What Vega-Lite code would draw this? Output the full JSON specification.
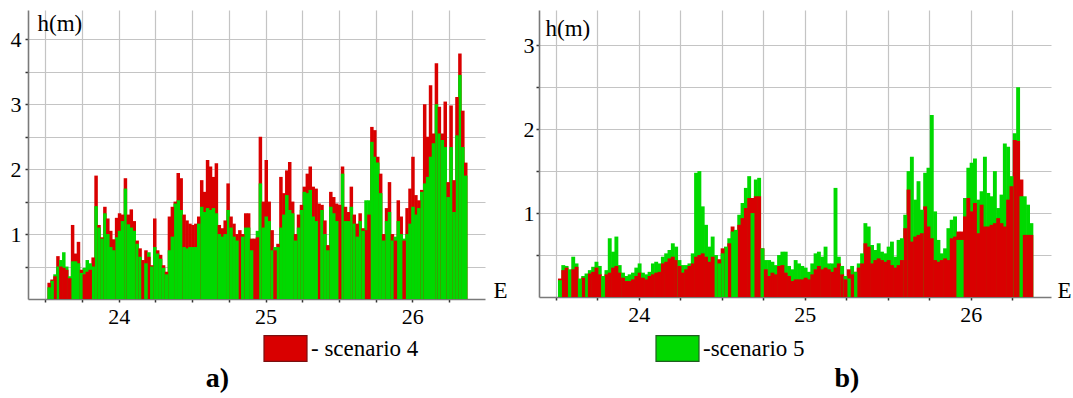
{
  "$schema": "https://vega.github.io/schema/vega-lite/v6.json",
  "padding": {"left": 10, "top": 10, "right": 0, "bottom": 0},
  "background": "white",
  "spacing": 15,
  "resolve": {"scale": {"color": "independent"}},
  "config": {
    "font": "Liberation Serif, serif",
    "view": {"stroke": null},
    "axis": {"labelFont": "Liberation Serif, serif", "titleFont": "Liberation Serif, serif", "labelColor": "#000", "titleColor": "#000", "gridColor": "#c4c4c4", "gridWidth": 1.2, "domainColor": "#7a7a7a", "domainWidth": 1.6, "tickColor": "#333", "tickSize": 3, "tickWidth": 1.5, "labelFontSize": 22, "titleFontSize": 23, "titleFontWeight": "normal", "labelOverlap": false, "labelFlush": false},
    "legend": {"labelFont": "Liberation Serif, serif", "labelFontSize": 23, "labelColor": "#000", "symbolType": "M-1,-0.6L1,-0.6L1,0.6L-1,0.6Z", "symbolSize": 1849, "symbolStrokeWidth": 1.2, "symbolOpacity": 1, "padding": 0, "labelOffset": 3},
    "title": {"font": "Liberation Serif, serif", "fontSize": 28, "fontWeight": "bold", "color": "#000"}
  },
  "datasets": {
    "a": [
      {"e":23.525,"scenario 4":0.25,"scenario 5":0.18},{"e":23.545,"scenario 4":0.3,"scenario 5":0.28},{"e":23.565,"scenario 4":0.35,"scenario 5":0.38},{"e":23.585,"scenario 4":0.66,"scenario 5":0.5},{"e":23.605,"scenario 4":0.5,"scenario 5":0.6},
      {"e":23.625,"scenario 4":0.48,"scenario 5":0.72},{"e":23.645,"scenario 4":0.45,"scenario 5":0.5},{"e":23.665,"scenario 4":0.32,"scenario 5":0.35},{"e":23.685,"scenario 4":1.14,"scenario 5":0.58},{"e":23.705,"scenario 4":0.7,"scenario 5":0.58},
      {"e":23.725,"scenario 4":0.88,"scenario 5":0.55},{"e":23.745,"scenario 4":0.45,"scenario 5":0.4},{"e":23.765,"scenario 4":0.38,"scenario 5":0.48},{"e":23.785,"scenario 4":0.42,"scenario 5":0.6},{"e":23.805,"scenario 4":0.45,"scenario 5":0.55},
      {"e":23.825,"scenario 4":0.64,"scenario 5":0.5},{"e":23.845,"scenario 4":1.9,"scenario 5":1.43},{"e":23.865,"scenario 4":1.14,"scenario 5":1.1},{"e":23.885,"scenario 4":0.95,"scenario 5":0.93},{"e":23.905,"scenario 4":1.42,"scenario 5":1.32},
      {"e":23.925,"scenario 4":1.24,"scenario 5":1.0},{"e":23.945,"scenario 4":1.05,"scenario 5":0.8},{"e":23.965,"scenario 4":0.92,"scenario 5":0.75},{"e":23.985,"scenario 4":1.25,"scenario 5":0.95},{"e":24.005,"scenario 4":1.32,"scenario 5":1.05},
      {"e":24.025,"scenario 4":1.3,"scenario 5":1.2},{"e":24.045,"scenario 4":1.86,"scenario 5":1.7},{"e":24.065,"scenario 4":1.3,"scenario 5":1.15},{"e":24.085,"scenario 4":1.38,"scenario 5":1.1},{"e":24.105,"scenario 4":1.2,"scenario 5":1.05},
      {"e":24.125,"scenario 4":0.9,"scenario 5":0.85},{"e":24.145,"scenario 4":0.78,"scenario 5":0.65},{"e":24.165,"scenario 4":0.6,"scenario 5":0},{"e":24.185,"scenario 4":0.75,"scenario 5":0.55},{"e":24.205,"scenario 4":0.65,"scenario 5":0.72},
      {"e":24.225,"scenario 4":0.52,"scenario 5":0.5},{"e":24.245,"scenario 4":1.24,"scenario 5":0.8},{"e":24.265,"scenario 4":0.75,"scenario 5":0.7},{"e":24.285,"scenario 4":0.68,"scenario 5":0.62},{"e":24.305,"scenario 4":0.52,"scenario 5":0.48},
      {"e":24.325,"scenario 4":0.42,"scenario 5":0.38},{"e":24.345,"scenario 4":1.27,"scenario 5":0.75},{"e":24.365,"scenario 4":1.42,"scenario 5":0.96},{"e":24.385,"scenario 4":1.5,"scenario 5":1.47},{"e":24.405,"scenario 4":1.94,"scenario 5":1.52},
      {"e":24.425,"scenario 4":1.86,"scenario 5":1.37},{"e":24.445,"scenario 4":1.3,"scenario 5":0.8},{"e":24.465,"scenario 4":1.21,"scenario 5":0.78},{"e":24.485,"scenario 4":1.16,"scenario 5":0.8},{"e":24.505,"scenario 4":1.14,"scenario 5":0.8},
      {"e":24.525,"scenario 4":1.16,"scenario 5":0.8},{"e":24.545,"scenario 4":1.27,"scenario 5":1.16},{"e":24.565,"scenario 4":1.83,"scenario 5":1.42},{"e":24.585,"scenario 4":1.65,"scenario 5":1.34},{"e":24.605,"scenario 4":2.14,"scenario 5":1.4},
      {"e":24.625,"scenario 4":2.04,"scenario 5":1.37},{"e":24.645,"scenario 4":1.88,"scenario 5":1.4},{"e":24.665,"scenario 4":2.09,"scenario 5":1.32},{"e":24.685,"scenario 4":1.14,"scenario 5":1.0},{"e":24.705,"scenario 4":1.09,"scenario 5":0.96},
      {"e":24.725,"scenario 4":1.21,"scenario 5":1.0},{"e":24.745,"scenario 4":1.78,"scenario 5":1.37},{"e":24.765,"scenario 4":1.27,"scenario 5":1.1},{"e":24.785,"scenario 4":1.16,"scenario 5":0.96},{"e":24.805,"scenario 4":1.0,"scenario 5":0.9},
      {"e":24.825,"scenario 4":1.06,"scenario 5":0},{"e":24.845,"scenario 4":1.0,"scenario 5":0.96},{"e":24.865,"scenario 4":1.32,"scenario 5":1.1},{"e":24.885,"scenario 4":1.32,"scenario 5":1.1},{"e":24.905,"scenario 4":0.93,"scenario 5":0.75},
      {"e":24.925,"scenario 4":0.93,"scenario 5":0},{"e":24.945,"scenario 4":0.95,"scenario 5":1.05},{"e":24.965,"scenario 4":2.5,"scenario 5":1.78},{"e":24.985,"scenario 4":1.5,"scenario 5":1.1},{"e":25.005,"scenario 4":2.14,"scenario 5":1.27},
      {"e":25.025,"scenario 4":1.5,"scenario 5":1.2},{"e":25.045,"scenario 4":1.06,"scenario 5":0.75},{"e":25.065,"scenario 4":0.75,"scenario 5":0.8},{"e":25.085,"scenario 4":0.85,"scenario 5":0.8},{"e":25.105,"scenario 4":1.88,"scenario 5":1.1},
      {"e":25.125,"scenario 4":1.63,"scenario 5":1.3},{"e":25.145,"scenario 4":1.98,"scenario 5":1.6},{"e":25.165,"scenario 4":2.11,"scenario 5":1.37},{"e":25.185,"scenario 4":1.5,"scenario 5":1.32},{"e":25.205,"scenario 4":1.0,"scenario 5":0.9},
      {"e":25.225,"scenario 4":1.3,"scenario 5":1.1},{"e":25.245,"scenario 4":1.45,"scenario 5":1.37},{"e":25.265,"scenario 4":1.73,"scenario 5":1.65},{"e":25.285,"scenario 4":1.93,"scenario 5":1.63},{"e":25.305,"scenario 4":2.04,"scenario 5":1.68},
      {"e":25.325,"scenario 4":1.73,"scenario 5":1.27},{"e":25.345,"scenario 4":1.7,"scenario 5":1.2},{"e":25.365,"scenario 4":1.47,"scenario 5":0},{"e":25.385,"scenario 4":1.45,"scenario 5":1.37},{"e":25.405,"scenario 4":1.21,"scenario 5":1.0},
      {"e":25.425,"scenario 4":0.83,"scenario 5":0.75},{"e":25.445,"scenario 4":1.65,"scenario 5":1.42},{"e":25.465,"scenario 4":1.57,"scenario 5":1.32},{"e":25.485,"scenario 4":1.47,"scenario 5":1.2},{"e":25.505,"scenario 4":1.45,"scenario 5":0},
      {"e":25.525,"scenario 4":2.04,"scenario 5":1.93},{"e":25.545,"scenario 4":1.42,"scenario 5":1.2},{"e":25.565,"scenario 4":1.34,"scenario 5":1.2},{"e":25.585,"scenario 4":1.73,"scenario 5":1.42},{"e":25.605,"scenario 4":1.3,"scenario 5":1.16},
      {"e":25.625,"scenario 4":1.16,"scenario 5":0.96},{"e":25.645,"scenario 4":1.32,"scenario 5":1.2},{"e":25.665,"scenario 4":1.09,"scenario 5":1.05},{"e":25.685,"scenario 4":1.06,"scenario 5":1.52},{"e":25.705,"scenario 4":1.3,"scenario 5":1.52},
      {"e":25.725,"scenario 4":2.65,"scenario 5":2.42},{"e":25.745,"scenario 4":2.6,"scenario 5":2.19},{"e":25.765,"scenario 4":2.19,"scenario 5":2.1},{"e":25.785,"scenario 4":1.93,"scenario 5":1.63},{"e":25.805,"scenario 4":1.0,"scenario 5":0.9},
      {"e":25.825,"scenario 4":1.4,"scenario 5":1.2},{"e":25.845,"scenario 4":1.8,"scenario 5":1.34},{"e":25.865,"scenario 4":1.0,"scenario 5":0.9},{"e":25.885,"scenario 4":0.9,"scenario 5":0.96},{"e":25.905,"scenario 4":1.52,"scenario 5":1.2},
      {"e":25.925,"scenario 4":1.27,"scenario 5":1.0},{"e":25.945,"scenario 4":0.9,"scenario 5":0.93},{"e":25.965,"scenario 4":1.4,"scenario 5":1.0},{"e":25.985,"scenario 4":1.7,"scenario 5":1.16},{"e":26.005,"scenario 4":2.19,"scenario 5":1.42},
      {"e":26.025,"scenario 4":1.6,"scenario 5":1.3},{"e":26.045,"scenario 4":1.52,"scenario 5":1.4},{"e":26.065,"scenario 4":1.68,"scenario 5":1.65},{"e":26.085,"scenario 4":3.0,"scenario 5":1.78},{"e":26.105,"scenario 4":2.5,"scenario 5":1.88},
      {"e":26.125,"scenario 4":3.29,"scenario 5":2.19},{"e":26.145,"scenario 4":2.55,"scenario 5":2.4},{"e":26.165,"scenario 4":3.63,"scenario 5":3.0},{"e":26.185,"scenario 4":2.96,"scenario 5":2.55},{"e":26.205,"scenario 4":2.55,"scenario 5":2.45},
      {"e":26.225,"scenario 4":3.04,"scenario 5":2.34},{"e":26.245,"scenario 4":1.8,"scenario 5":1.57},{"e":26.265,"scenario 4":2.98,"scenario 5":2.34},{"e":26.285,"scenario 4":1.83,"scenario 5":1.34},{"e":26.305,"scenario 4":3.11,"scenario 5":2.52},
      {"e":26.325,"scenario 4":3.78,"scenario 5":3.45},{"e":26.345,"scenario 4":2.9,"scenario 5":2.34},{"e":26.365,"scenario 4":2.1,"scenario 5":1.9}
    ],
    "b": [
      {"e":23.525,"scenario 4":0.22,"scenario 5":0.2},{"e":23.545,"scenario 4":0.32,"scenario 5":0.38},{"e":23.565,"scenario 4":0.35,"scenario 5":0.37},{"e":23.585,"scenario 4":0,"scenario 5":0.33},{"e":23.605,"scenario 4":0.33,"scenario 5":0.48},
      {"e":23.625,"scenario 4":0.36,"scenario 5":0.4},{"e":23.645,"scenario 4":0,"scenario 5":0.22},{"e":23.665,"scenario 4":0.23,"scenario 5":0.25},{"e":23.685,"scenario 4":0,"scenario 5":0.28},{"e":23.705,"scenario 4":0.28,"scenario 5":0.32},
      {"e":23.725,"scenario 4":0.3,"scenario 5":0.36},{"e":23.745,"scenario 4":0.35,"scenario 5":0.42},{"e":23.765,"scenario 4":0.27,"scenario 5":0.37},{"e":23.785,"scenario 4":0,"scenario 5":0.25},{"e":23.805,"scenario 4":0.27,"scenario 5":0.32},
      {"e":23.825,"scenario 4":0.29,"scenario 5":0.7},{"e":23.845,"scenario 4":0.35,"scenario 5":0.54},{"e":23.865,"scenario 4":0.37,"scenario 5":0.72},{"e":23.885,"scenario 4":0.29,"scenario 5":0.38},{"e":23.905,"scenario 4":0.23,"scenario 5":0.29},
      {"e":23.925,"scenario 4":0.19,"scenario 5":0.25},{"e":23.945,"scenario 4":0.19,"scenario 5":0.27},{"e":23.965,"scenario 4":0.21,"scenario 5":0.29},{"e":23.985,"scenario 4":0.25,"scenario 5":0.35},{"e":24.005,"scenario 4":0.29,"scenario 5":0.4},
      {"e":24.025,"scenario 4":0.23,"scenario 5":0.29},{"e":24.045,"scenario 4":0.21,"scenario 5":0.27},{"e":24.065,"scenario 4":0.25,"scenario 5":0.3},{"e":24.085,"scenario 4":0.27,"scenario 5":0.4},{"e":24.105,"scenario 4":0.29,"scenario 5":0.42},
      {"e":24.125,"scenario 4":0.3,"scenario 5":0.4},{"e":24.145,"scenario 4":0.4,"scenario 5":0.48},{"e":24.165,"scenario 4":0.42,"scenario 5":0.52},{"e":24.185,"scenario 4":0.46,"scenario 5":0.56},{"e":24.205,"scenario 4":0.48,"scenario 5":0.64},
      {"e":24.225,"scenario 4":0.44,"scenario 5":0.6},{"e":24.245,"scenario 4":0.37,"scenario 5":0.44},{"e":24.265,"scenario 4":0.29,"scenario 5":0.38},{"e":24.285,"scenario 4":0.33,"scenario 5":0.38},{"e":24.305,"scenario 4":0.37,"scenario 5":0.4},
      {"e":24.325,"scenario 4":0.4,"scenario 5":0.52},{"e":24.345,"scenario 4":0.48,"scenario 5":1.48},{"e":24.365,"scenario 4":0.5,"scenario 5":1.5},{"e":24.385,"scenario 4":0.52,"scenario 5":1.08},{"e":24.405,"scenario 4":0.48,"scenario 5":0.86},
      {"e":24.425,"scenario 4":0.42,"scenario 5":0.6},{"e":24.445,"scenario 4":0.48,"scenario 5":0.72},{"e":24.465,"scenario 4":0,"scenario 5":0.5},{"e":24.485,"scenario 4":0.45,"scenario 5":0.4},{"e":24.505,"scenario 4":0.58,"scenario 5":0.52},
      {"e":24.525,"scenario 4":0,"scenario 5":0.6},{"e":24.545,"scenario 4":0.64,"scenario 5":0.7},{"e":24.565,"scenario 4":0.84,"scenario 5":0.78},{"e":24.585,"scenario 4":0,"scenario 5":0.8},{"e":24.605,"scenario 4":0.86,"scenario 5":0.98},
      {"e":24.625,"scenario 4":0.94,"scenario 5":1.12},{"e":24.645,"scenario 4":1.06,"scenario 5":1.3},{"e":24.665,"scenario 4":1.18,"scenario 5":1.44},{"e":24.685,"scenario 4":1.18,"scenario 5":1.0},{"e":24.705,"scenario 4":1.2,"scenario 5":1.4},
      {"e":24.725,"scenario 4":1.2,"scenario 5":1.42},{"e":24.745,"scenario 4":0.58,"scenario 5":0.58},{"e":24.765,"scenario 4":0.33,"scenario 5":0.44},{"e":24.785,"scenario 4":0.25,"scenario 5":0.44},{"e":24.805,"scenario 4":0.29,"scenario 5":0.42},
      {"e":24.825,"scenario 4":0.27,"scenario 5":0.38},{"e":24.845,"scenario 4":0.37,"scenario 5":0.5},{"e":24.865,"scenario 4":0.38,"scenario 5":0.54},{"e":24.885,"scenario 4":0.29,"scenario 5":0.54},{"e":24.905,"scenario 4":0.25,"scenario 5":0.37},
      {"e":24.925,"scenario 4":0.19,"scenario 5":0.33},{"e":24.945,"scenario 4":0.21,"scenario 5":0.44},{"e":24.965,"scenario 4":0.21,"scenario 5":0.4},{"e":24.985,"scenario 4":0.21,"scenario 5":0.37},{"e":25.005,"scenario 4":0.23,"scenario 5":0.35},
      {"e":25.025,"scenario 4":0.21,"scenario 5":0.3},{"e":25.045,"scenario 4":0.27,"scenario 5":0.4},{"e":25.065,"scenario 4":0.33,"scenario 5":0.52},{"e":25.085,"scenario 4":0.37,"scenario 5":0.54},{"e":25.105,"scenario 4":0.33,"scenario 5":0.48},
      {"e":25.125,"scenario 4":0.35,"scenario 5":0.6},{"e":25.145,"scenario 4":0.33,"scenario 5":0.4},{"e":25.165,"scenario 4":0.3,"scenario 5":0.4},{"e":25.185,"scenario 4":0.35,"scenario 5":1.3},{"e":25.205,"scenario 4":0.4,"scenario 5":0.48},
      {"e":25.225,"scenario 4":0.27,"scenario 5":0.37},{"e":25.245,"scenario 4":0.21,"scenario 5":0.25},{"e":25.265,"scenario 4":0.33,"scenario 5":0.22},{"e":25.285,"scenario 4":0.27,"scenario 5":0.37},{"e":25.305,"scenario 4":0.3,"scenario 5":0.3},
      {"e":25.325,"scenario 4":0.35,"scenario 5":0.4},{"e":25.345,"scenario 4":0.4,"scenario 5":0.52},{"e":25.365,"scenario 4":0.64,"scenario 5":0.88},{"e":25.385,"scenario 4":0.6,"scenario 5":0.84},{"e":25.405,"scenario 4":0.4,"scenario 5":0.62},
      {"e":25.425,"scenario 4":0.44,"scenario 5":0.56},{"e":25.445,"scenario 4":0.46,"scenario 5":0.64},{"e":25.465,"scenario 4":0.44,"scenario 5":0.54},{"e":25.485,"scenario 4":0.42,"scenario 5":0.52},{"e":25.505,"scenario 4":0.44,"scenario 5":0.6},
      {"e":25.525,"scenario 4":0.38,"scenario 5":0.66},{"e":25.545,"scenario 4":0.35,"scenario 5":0.48},{"e":25.565,"scenario 4":0.38,"scenario 5":0.68},{"e":25.585,"scenario 4":0.44,"scenario 5":0.7},{"e":25.605,"scenario 4":0.82,"scenario 5":0.98},
      {"e":25.625,"scenario 4":1.28,"scenario 5":1.5},{"e":25.645,"scenario 4":0.66,"scenario 5":1.67},{"e":25.665,"scenario 4":0.72,"scenario 5":1.16},{"e":25.685,"scenario 4":0.74,"scenario 5":1.38},{"e":25.705,"scenario 4":0.76,"scenario 5":1.04},
      {"e":25.725,"scenario 4":1.08,"scenario 5":1.48},{"e":25.745,"scenario 4":0.84,"scenario 5":1.54},{"e":25.765,"scenario 4":0.7,"scenario 5":2.17},{"e":25.785,"scenario 4":0.44,"scenario 5":1.02},{"e":25.805,"scenario 4":0.42,"scenario 5":0.68},
      {"e":25.825,"scenario 4":0.44,"scenario 5":0.52},{"e":25.845,"scenario 4":0.46,"scenario 5":0.58},{"e":25.865,"scenario 4":0.44,"scenario 5":0.82},{"e":25.885,"scenario 4":0.7,"scenario 5":0.92},{"e":25.905,"scenario 4":0.72,"scenario 5":0.96},
      {"e":25.925,"scenario 4":0.78,"scenario 5":0.68},{"e":25.945,"scenario 4":0.78,"scenario 5":0.68},{"e":25.965,"scenario 4":0.96,"scenario 5":1.18},{"e":25.985,"scenario 4":1.18,"scenario 5":1.54},{"e":26.005,"scenario 4":1.02,"scenario 5":1.6},
      {"e":26.025,"scenario 4":1.12,"scenario 5":1.65},{"e":26.045,"scenario 4":0.76,"scenario 5":1.16},{"e":26.065,"scenario 4":1.1,"scenario 5":1.26},{"e":26.085,"scenario 4":0.84,"scenario 5":1.67},{"e":26.105,"scenario 4":0.84,"scenario 5":1.24},
      {"e":26.125,"scenario 4":0.86,"scenario 5":1.2},{"e":26.145,"scenario 4":0.88,"scenario 5":1.5},{"e":26.165,"scenario 4":0.94,"scenario 5":1.06},{"e":26.185,"scenario 4":0.88,"scenario 5":1.22},{"e":26.205,"scenario 4":0.84,"scenario 5":1.83},
      {"e":26.225,"scenario 4":1.16,"scenario 5":1.79},{"e":26.245,"scenario 4":1.32,"scenario 5":1.44},{"e":26.265,"scenario 4":1.87,"scenario 5":1.95},{"e":26.285,"scenario 4":1.86,"scenario 5":2.5},{"e":26.305,"scenario 4":1.4,"scenario 5":1.2},
      {"e":26.325,"scenario 4":0.74,"scenario 5":1.2},{"e":26.345,"scenario 4":0.74,"scenario 5":1.1},{"e":26.365,"scenario 4":0.74,"scenario 5":0.88}
    ]
  },
  "hconcat": [
    {
      "width": 457,
      "height": 289,
      "data": {"name": "a"},
      "transform": [{"fold": ["scenario 4", "scenario 5"], "as": ["s", "h"]}],
      "title": {"text": "a)", "orient": "bottom", "anchor": "middle", "frame": "group", "dx": -39, "offset": 1},
      "mark": {"type": "bar", "width": 3.5},
      "encoding": {
        "x": {"field": "e", "type": "quantitative",
          "scale": {"domain": [23.415, 26.462], "nice": false, "zero": false},
          "axis": {"values": [23.5, 23.75, 24, 24.25, 24.5, 24.75, 25, 25.25, 25.5, 25.75, 26, 26.25], "labelExpr": "datum.value % 1 === 0 ? '' + datum.value : ''", "labelPadding": 4, "grid": true, "title": "E", "titleAngle": 0, "titleAlign": "left", "titleBaseline": "alphabetic", "titleX": 465, "titleY": -2}},
        "y": {"field": "h", "type": "quantitative", "stack": null,
          "scale": {"domain": [0, 4.45], "nice": false},
          "axis": {"values": [0.5, 1, 1.5, 2, 2.5, 3, 3.5, 4], "labelExpr": "datum.value % 1 === 0 ? '' + datum.value : ''", "labelPadding": 4, "grid": true, "title": "h(m)", "titleAngle": 0, "titleAlign": "left", "titleBaseline": "alphabetic", "titleX": 9, "titleY": 20}},
        "color": {"field": "s", "type": "nominal",
          "scale": {"domain": ["scenario 4", "scenario 5"], "range": ["#d90000", "#00d900"]},
          "legend": {"values": ["scenario 4"], "title": null, "orient": "none", "legendX": 235, "legendY": 316, "labelExpr": "'- ' + datum.label", "symbolStrokeColor": "#7a1010"}},
        "order": {"field": "h", "type": "quantitative", "sort": "descending"}
      }
    },
    {
      "width": 512,
      "height": 287,
      "data": {"name": "b"},
      "transform": [{"fold": ["scenario 4", "scenario 5"], "as": ["s", "h"]}],
      "title": {"text": "b)", "orient": "bottom", "anchor": "middle", "frame": "group", "dx": 52, "offset": 1},
      "mark": {"type": "bar", "width": 3.9},
      "encoding": {
        "x": {"field": "e", "type": "quantitative",
          "scale": {"domain": [23.429, 26.453], "nice": false, "zero": false},
          "axis": {"values": [23.5, 23.75, 24, 24.25, 24.5, 24.75, 25, 25.25, 25.5, 25.75, 26, 26.25], "labelExpr": "datum.value % 1 === 0 ? '' + datum.value : ''", "labelPadding": 4, "grid": true, "title": "E", "titleAngle": 0, "titleAlign": "left", "titleBaseline": "alphabetic", "titleX": 518, "titleY": 0}},
        "y": {"field": "h", "type": "quantitative", "stack": null,
          "scale": {"domain": [0, 3.42], "nice": false},
          "axis": {"values": [0.5, 1, 1.5, 2, 2.5, 3], "labelExpr": "datum.value % 1 === 0 ? '' + datum.value : ''", "labelPadding": 2, "grid": true, "title": "h(m)", "titleAngle": 0, "titleAlign": "left", "titleBaseline": "alphabetic", "titleX": 6, "titleY": 25}},
        "color": {"field": "s", "type": "nominal",
          "scale": {"domain": ["scenario 4", "scenario 5"], "range": ["#d90000", "#00d900"]},
          "legend": {"values": ["scenario 5"], "title": null, "orient": "none", "legendX": 116, "legendY": 316, "labelExpr": "'-' + datum.label", "symbolStrokeColor": "#1f5f1f"}},
        "order": {"field": "h", "type": "quantitative", "sort": "descending"}
      }
    }
  ]
}
